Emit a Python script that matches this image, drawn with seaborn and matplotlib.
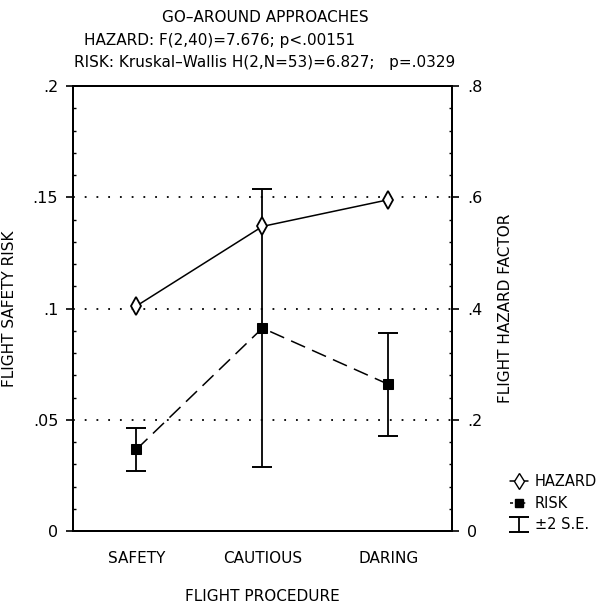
import numpy as np
import pandas as pd
import matplotlib
matplotlib.use("Agg")
import matplotlib.pyplot as plt
from matplotlib.lines import Line2D
from matplotlib.ticker import MultipleLocator, FixedLocator
import seaborn as sns

# ---- data -------------------------------------------------------------
procedures = ["SAFETY", "CAUTIOUS", "DARING"]
hazard = [0.405, 0.548, 0.596]          # flight hazard factor (right axis)
risk = [0.0368, 0.0913, 0.0660]         # flight safety risk (left axis)
risk_2se = [0.0096, 0.0623, 0.0233]     # +/- 2 standard errors of risk

risk_ticks = [0, 0.05, 0.1, 0.15, 0.2]
risk_tick_labels = ["0", ".05", ".1", ".15", ".2"]
hazard_ticks = [0, 0.2, 0.4, 0.6, 0.8]
hazard_tick_labels = ["0", ".2", ".4", ".6", ".8"]

title_lines = [
    "GO\u2013AROUND APPROACHES",
    "HAZARD: F(2,40)=7.676; p<.00151",
    "RISK: Kruskal\u2013Wallis H(2,N=53)=6.827;   p=.0329",
]

df = pd.DataFrame({"procedure": procedures, "hazard": hazard, "risk": risk})

# ---- style ------------------------------------------------------------
sns.set_style("white")
plt.rcParams["font.family"] = ["DejaVu Sans"]
plt.rcParams["axes.linewidth"] = 1.4
for key in ("text.color", "axes.labelcolor", "xtick.color", "ytick.color"):
    plt.rcParams[key] = "black"
FS = 11

fig = plt.figure(figsize=(6.02, 6.03), dpi=100)
ax = fig.add_axes([0.122, 0.119, 0.628, 0.738])
ax2 = ax.twinx()

# risk series (left axis), dashed with filled squares
sns.lineplot(data=df, x="procedure", y="risk", ax=ax, color="black",
             linewidth=1.1, linestyle=(0, (10, 5)), marker="s",
             markersize=7, markerfacecolor="black", markeredgecolor="black",
             sort=False)
err = ax.errorbar(df["procedure"], df["risk"], yerr=risk_2se, fmt="none",
                  ecolor="black", elinewidth=1.3, capsize=7, capthick=1.4)

# hazard series (right axis), solid with open diamonds
sns.lineplot(data=df, x="procedure", y="hazard", ax=ax2, color="black",
             linewidth=1.1, marker="d", markersize=9,
             markerfacecolor="white", markeredgecolor="black",
             markeredgewidth=1.3, sort=False)

ax.set_xlim(-0.5, 2.5)
ax.set_ylim(0, 0.2)
ax2.set_ylim(0, 0.8)

# dotted reference lines at the inner major ticks
for v in risk_ticks[1:-1]:
    ax.axhline(v, color="black", linestyle=(0, (1, 5.5)), linewidth=1.3,
               zorder=0)

ax.yaxis.set_major_locator(FixedLocator(risk_ticks))
ax.set_yticklabels(risk_tick_labels)
ax2.yaxis.set_major_locator(FixedLocator(hazard_ticks))
ax2.set_yticklabels(hazard_tick_labels)
ax.yaxis.set_minor_locator(MultipleLocator(0.01))
ax2.yaxis.set_minor_locator(MultipleLocator(0.04))

ax.tick_params(axis="y", which="major", direction="out", length=5,
               width=1.2, labelsize=FS + 0.5, pad=6)
ax.tick_params(axis="y", which="minor", direction="in", length=2.5,
               width=1.0, left=True)
ax2.tick_params(axis="y", which="major", direction="out", length=5,
                width=1.2, labelsize=FS + 0.5, pad=6)
ax2.tick_params(axis="y", which="minor", direction="in", length=2.5,
                width=1.0, right=True)
ax.tick_params(axis="x", which="both", bottom=False, labelsize=FS, pad=11)
ax2.tick_params(axis="x", which="both", bottom=False)

for a in (ax, ax2):
    for s in a.spines.values():
        s.set_visible(True)
        s.set_color("black")
        s.set_linewidth(1.4)

ax.set_xlabel("FLIGHT PROCEDURE", fontsize=FS, labelpad=16)
ax.set_ylabel("FLIGHT SAFETY RISK", fontsize=FS)
ax2.set_ylabel("FLIGHT HAZARD FACTOR", fontsize=FS, rotation=90)
ax.yaxis.set_label_coords(-0.148, 0.5)
ax2.yaxis.set_label_coords(1.122, 0.5)

# three-line heading
fig.text(265 / 602, 1 - 18 / 603, title_lines[0], ha="center", va="center",
         fontsize=FS)
fig.text(220 / 602, 1 - 41 / 603, title_lines[1], ha="center", va="center",
         fontsize=FS)
fig.text(265 / 602, 1 - 62 / 603, title_lines[2], ha="center", va="center",
         fontsize=FS)

# legend
handles = [
    Line2D([], [], color="black", linewidth=1.1, marker="d", markersize=8,
           markerfacecolor="white", markeredgecolor="black"),
    Line2D([], [], color="black", linewidth=1.1, linestyle=(0, (2, 2)),
           marker="s", markersize=6, markerfacecolor="black"),
    err,
]
fig.legend(handles, ["HAZARD", "RISK", "\u00b12 S.E."], loc="upper left",
           bbox_to_anchor=(510 / 602, 1 - 474 / 603), frameon=False,
           handlelength=1.2, handletextpad=0.5, labelspacing=0.45,
           fontsize=FS - 0.5, borderaxespad=0, borderpad=0,
           handleheight=0.6)

fig.savefig("out.png", dpi=100)
